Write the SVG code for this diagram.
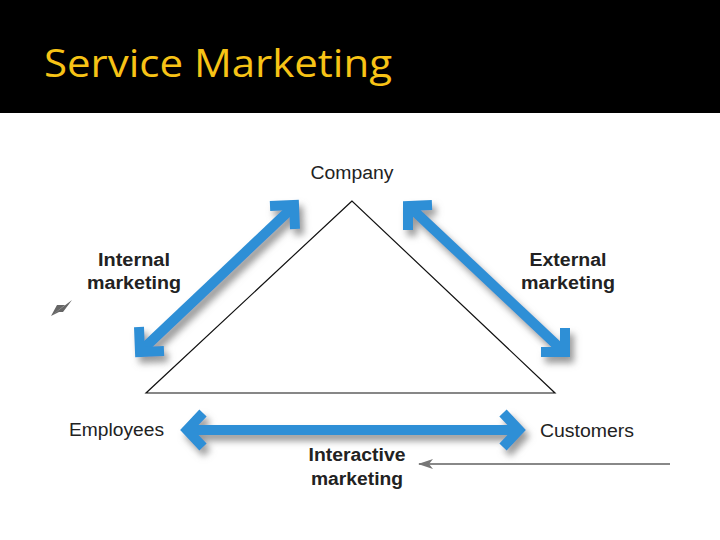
<svg xmlns="http://www.w3.org/2000/svg" width="720" height="540" viewBox="0 0 720 540">
<style>
.lbl{font-family:"Liberation Sans",Arial,sans-serif;font-size:18px;fill:#222;}
.b{font-weight:bold;}
.arr{fill:none;stroke:#2E8FD6;stroke-width:10;stroke-linejoin:miter;stroke-linecap:butt;}
</style>
<defs>
<filter id="sh" filterUnits="userSpaceOnUse" x="0" y="0" width="720" height="540">
<feDropShadow dx="4" dy="6" stdDeviation="3.5" flood-color="#777" flood-opacity="0.75"/>
</filter>
<marker id="ga" markerWidth="15" markerHeight="10" refX="14" refY="5" orient="auto" markerUnits="userSpaceOnUse">
<path d="M0,0 L15,5 L0,10 L4,5 Z" fill="#777"/>
</marker>
</defs>
<rect x="0" y="0" width="720" height="540" fill="#fff"/>
<rect x="0" y="0" width="720" height="113" fill="#000"/>
<text x="44" y="77" font-family="'Open Sans','Noto Sans',sans-serif" font-size="38" fill="#F7C316" textLength="348" lengthAdjust="spacingAndGlyphs">Service Marketing</text>

<g id="triangle">
<polygon points="352,201 146,393 555,393" fill="none" stroke="#111" stroke-width="1.2"/>
</g>

<g id="connectors">
<g id="internal-arrow" filter="url(#sh)">
<path class="arr" d="M143,349 L292,208"/>
<path class="arr" d="M270,206 L294,205 L295,229"/>
<path class="arr" d="M139,327 L140,352 L164,351"/>
</g>
<g id="external-arrow" filter="url(#sh)">
<path class="arr" d="M411,208 L562,350"/>
<path class="arr" d="M432,205 L408,206 L408,230"/>
<path class="arr" d="M565,328 L565,352 L541,352"/>
</g>
<g id="interactive-arrow" filter="url(#sh)">
<path class="arr" d="M188,430 L518,430"/>
<path class="arr" d="M203,413 L187,430 L203,447"/>
<path class="arr" d="M503,413 L519,430 L503,447"/>
</g>
<line x1="670" y1="464" x2="419" y2="464" stroke="#888" stroke-width="2" marker-end="url(#ga)"/>
<path d="M51,316 L72,300 L63,312 L59,312 Z M51,316 L57,305 L65,305 Z" fill="#666"/>
</g>

<g id="company"><text class="lbl" x="352" y="179" text-anchor="middle" textLength="83" lengthAdjust="spacingAndGlyphs">Company</text></g>
<g id="employees"><text class="lbl" x="69" y="436" textLength="95" lengthAdjust="spacingAndGlyphs">Employees</text></g>
<g id="customers"><text class="lbl" x="540" y="437" textLength="94" lengthAdjust="spacingAndGlyphs">Customers</text></g>
<g id="internal-label">
<text class="lbl b" x="134" y="266" text-anchor="middle" textLength="72" lengthAdjust="spacingAndGlyphs">Internal</text>
<text class="lbl b" x="134" y="289" text-anchor="middle" textLength="94" lengthAdjust="spacingAndGlyphs">marketing</text>
</g>
<g id="external-label">
<text class="lbl b" x="568" y="266" text-anchor="middle" textLength="77" lengthAdjust="spacingAndGlyphs">External</text>
<text class="lbl b" x="568" y="289" text-anchor="middle" textLength="94" lengthAdjust="spacingAndGlyphs">marketing</text>
</g>
<g id="interactive-label">
<text class="lbl b" x="357" y="461" text-anchor="middle" textLength="97" lengthAdjust="spacingAndGlyphs">Interactive</text>
<text class="lbl b" x="357" y="485" text-anchor="middle" textLength="92" lengthAdjust="spacingAndGlyphs">marketing</text>
</g>
</svg>
